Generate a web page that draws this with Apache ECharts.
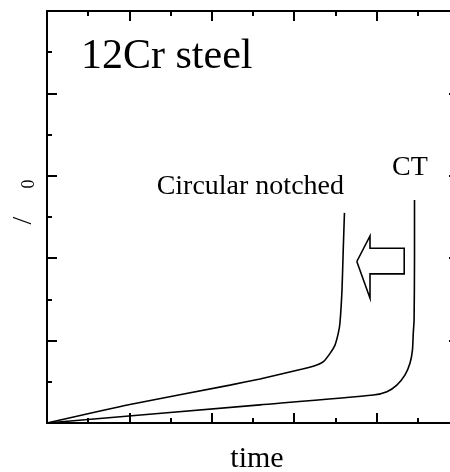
<!DOCTYPE html>
<html>
<head>
<meta charset="utf-8">
<script src="https://cdn.jsdelivr.net/npm/echarts@6/dist/echarts.min.js"></script>
<style>
  html, body { margin: 0; padding: 0; background: #fff; }
  #main { width: 450px; height: 472px; }
</style>
</head>
<body>
<div id="main"></div>
<script>
// curves: [time, strain ratio], axis runs 0..10 both ways
const circularNotched = [
  [0, 0], [2.01, 0.45], [4.44, 0.92], [5.17, 1.07], [6.2, 1.31], [6.55, 1.41],
  [6.71, 1.49], [6.87, 1.69], [6.99, 1.89], [7.07, 2.18], [7.11, 2.42],
  [7.16, 3.23], [7.19, 4.2], [7.22, 5.1]
];
const ctSpecimen = [
  [0, 0], [5.17, 0.44], [7.92, 0.68], [8.25, 0.76], [8.49, 0.92], [8.69, 1.17],
  [8.81, 1.45], [8.87, 1.77], [8.89, 2.18], [8.91, 2.5], [8.92, 4.0], [8.92, 5.41]
];
// hollow arrow pointing left, outline in data units
const arrowOutline = [
  [7.52, 3.92], [7.84, 4.54], [7.84, 4.24], [8.67, 4.24],
  [8.67, 3.62], [7.84, 3.62], [7.84, 3.03], [7.52, 3.92]
];
const axisMin = 0;
const axisMax = 10;
const majorStep = 2;

const serif = "Liberation Serif";

let chartDom = document.getElementById("main");
let myChart = echarts.init(chartDom, null, { renderer: "canvas" });

function frameAxis(position) {
  return {
    type: "value",
    position: position,
    min: axisMin,
    max: axisMax,
    interval: majorStep,
    axisLine: { show: true, onZero: false, lineStyle: { color: "#000", width: 2 } },
    axisTick: { show: true, inside: true, length: 10, lineStyle: { color: "#000", width: 2 } },
    minorTick: { show: true, splitNumber: 2, length: 5, lineStyle: { color: "#000", width: 2 } },
    axisLabel: { show: false },
    splitLine: { show: false },
    minorSplitLine: { show: false },
  };
}

let bottomAxis = frameAxis("bottom");
bottomAxis.name = "time";
bottomAxis.nameLocation = "middle";
bottomAxis.nameGap = 21;
bottomAxis.nameTextStyle = {
  fontFamily: serif,
  fontSize: 30,
  color: "#000",
  padding: [0, 0, 0, 8],
};

// y label: the greek letters are lost in the original, only "/" and a subscript 0 remain
let leftAxis = frameAxis("left");
leftAxis.name = "{a|/}{s|}{b|0}";
leftAxis.nameLocation = "middle";
leftAxis.nameRotate = 90;
leftAxis.nameGap = 9;
leftAxis.nameTextStyle = {
  color: "#000",
  padding: [0, 0, 0, 30],
  rich: {
    a: { fontFamily: serif, fontSize: 28, color: "#000" },
    s: { width: 28 },
    b: { fontFamily: serif, fontSize: 18, color: "#000", verticalAlign: "bottom" },
  },
};

let option = {
  animation: false,
  backgroundColor: "#fff",
  grid: { left: 47, top: 11, width: 412, height: 412, outerBoundsMode: "none" },
  xAxis: [bottomAxis, frameAxis("top")],
  yAxis: [leftAxis, frameAxis("right")],
  graphic: [
    {
      type: "text", x: 81, y: 57,
      style: { text: "12Cr steel", font: "42px " + serif, fill: "#000", verticalAlign: "middle" },
    },
    {
      type: "text", x: 344, y: 187,
      style: { text: "Circular notched", font: "28px " + serif, fill: "#000", align: "right", verticalAlign: "middle" },
    },
    {
      type: "text", x: 392, y: 168,
      style: { text: "CT", font: "28px " + serif, fill: "#000", verticalAlign: "middle" },
    },
  ],
  series: [
    {
      name: "Circular notched",
      type: "line",
      data: circularNotched,
      showSymbol: false,
      smooth: 0.2,
      lineStyle: { color: "#000", width: 1.6 },
    },
    {
      name: "CT",
      type: "line",
      data: ctSpecimen,
      showSymbol: false,
      smooth: 0.2,
      lineStyle: { color: "#000", width: 1.6 },
    },
    {
      name: "arrow",
      type: "line",
      data: arrowOutline,
      showSymbol: false,
      lineStyle: { color: "#000", width: 1.6, join: "miter" },
    },
  ],
};

option && myChart.setOption(option);
</script>
</body>
</html>
